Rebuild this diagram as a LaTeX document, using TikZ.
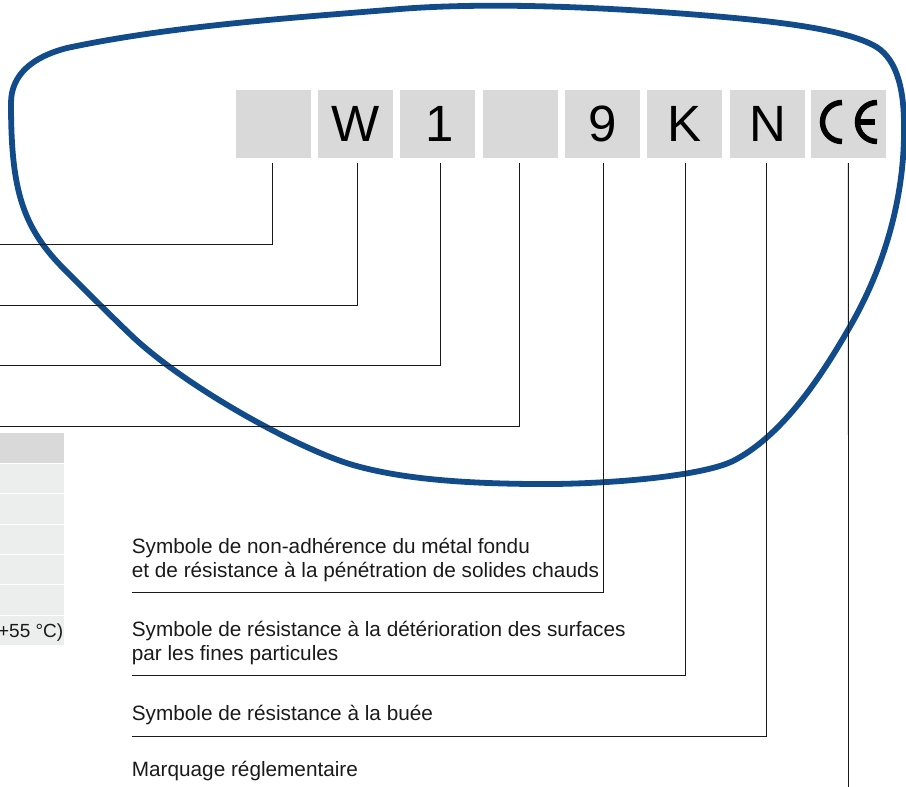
\documentclass[tikz,border=0pt]{standalone}
\usepackage{fontspec}
\setmainfont{Liberation Sans}
\definecolor{lensblue}{HTML}{124B8A}
\definecolor{boxgrey}{HTML}{D9D9D9}
\definecolor{rowgrey}{HTML}{ECEEED}
\definecolor{inkc}{HTML}{1A1A1A}
\tikzset{
  lens/.style={draw=lensblue,line width=5.8pt,line join=round},
  cell/.style={fill=boxgrey,draw=none,minimum width=75pt,minimum height=68pt,inner sep=0pt,text height=34pt,text depth=0pt,font=\fontsize{51pt}{51pt}\selectfont,text=black},
  leader/.style={draw=inkc,line width=0.9pt},
  caption/.style={anchor=base west,font=\fontsize{20.75pt}{24pt}\selectfont,text=inkc,inner sep=0pt},
}
\begin{document}
\begin{tikzpicture}[x=1pt,y=-1pt]
\useasboundingbox (0,0) rectangle (906,787);
% lens
\draw[lens] (11,103)
  .. controls (11,75) and (32,57) .. (67,48)
  .. controls (170,26) and (290,18) .. (400,9)
  .. controls (470,3.5) and (570,4.5) .. (700,15)
  .. controls (770,20.7) and (840,28) .. (873,45)
  .. controls (895,56) and (904,85) .. (904,125)
  .. controls (905,190) and (888,262) .. (848,330)
  .. controls (818,382) and (780,437) .. (733,461)
  .. controls (700,477) and (600,485) .. (530,484)
  .. controls (470,483.3) and (405,480) .. (353,465)
  .. controls (301,450) and (190,390) .. (133,337)
  .. controls (110,315) and (88,293) .. (67,272)
  .. controls (22,228) and (11,190) .. (11,103) -- cycle;
% table
\fill[boxgrey] (0,433) rectangle (64,463);
\foreach \a/\b in {464/493,494/524,525/554,555/584,585/615}{\fill[rowgrey] (0,\a) rectangle (64,\b);}
\fill[rowgrey] (0,616) rectangle (64,645);
\node[anchor=base east,inner sep=0pt,font=\fontsize{19pt}{22pt}\selectfont,text=inkc] (temp) at (63.5,637) {+55 °C)};
% cells
\node[cell] (c1) at (273.5,124) {};
\node[cell] (c2) at (355.5,124) {W};
\node[cell] (c3) at (437.5,124) {\hspace{5pt}1};
\node[cell] (c4) at (520.5,124) {};
\node[cell] (c5) at (602.5,124) {9};
\node[cell] (c6) at (684.5,124) {K};
\node[cell] (c7) at (767.5,124) {N};
\node[cell] (c8) at (848.5,124) {};
% CE mark
\draw[black,line width=5.5pt] (842,102.5) arc[start angle=-90,end angle=-270,radius=19.5];
\draw[black,line width=5.5pt] (877,102.5) arc[start angle=-90,end angle=-270,radius=19.5];
\draw[black,line width=5.5pt] (857,122) -- (875,122);
% leaders
\coordinate (l1) at (0,244);
\coordinate (l2) at (0,305);
\coordinate (l3) at (0,365);
\coordinate (l4) at (0,426);
\draw[leader] (272.5,163) |- (l1);
\draw[leader] (357.5,163) |- (l2);
\draw[leader] (440.3,163) |- (l3);
\draw[leader] (519.6,163) |- (l4);
\coordinate (e5) at (132,592);
\coordinate (e6) at (132,675);
\coordinate (e7) at (132,736);
\coordinate (e8) at (848.5,787);
\draw[leader] (603.8,163) |- (e5);
\draw[leader] (685.3,163) |- (e6);
\draw[leader] (766.6,163) |- (e7);
\draw[leader] (848.4,163) -- (e8);
% captions
\node[caption] (t1) at (131.7,553) {Symbole de non-adhérence du métal fondu};
\node[caption] (t2) at (131.7,577) {et de résistance à la pénétration de solides chauds};
\node[caption] (t3) at (131.7,636) {Symbole de résistance à la détérioration des surfaces};
\node[caption] (t4) at (131.7,660) {par les fines particules};
\node[caption] (t5) at (131.7,720) {Symbole de résistance à la buée};
\node[caption] (t6) at (131.7,776) {Marquage réglementaire};
\end{tikzpicture}
\end{document}
